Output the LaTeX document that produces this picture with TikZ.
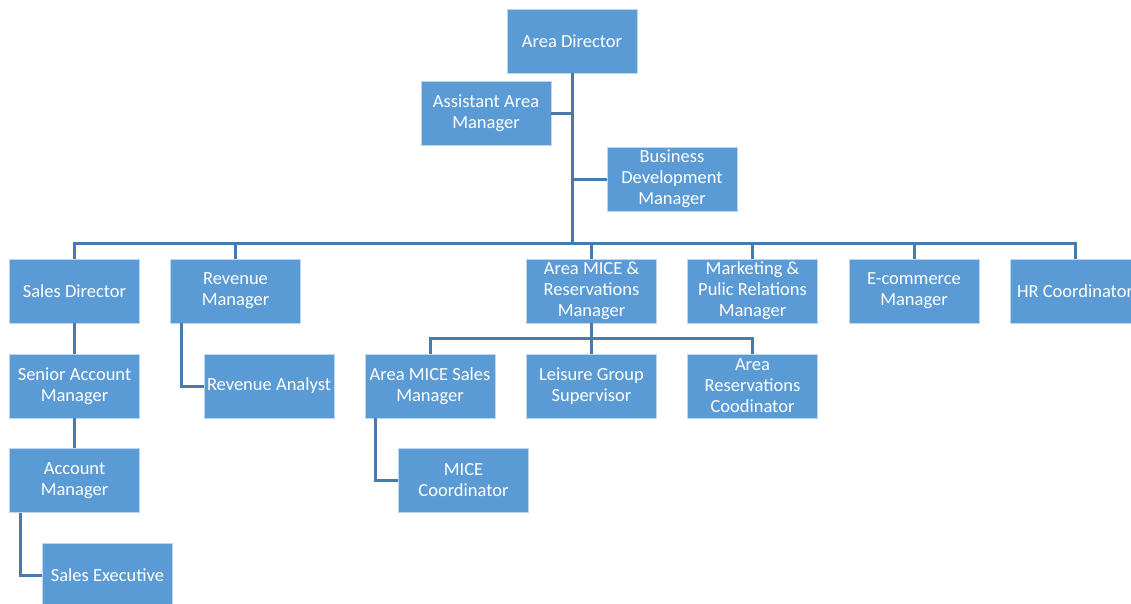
\documentclass[tikz,border=0pt]{standalone}
\usepackage{fontspec}
\setmainfont{Carlito}
\usepackage{tikz}
\usetikzlibrary{calc}
\definecolor{boxblue}{RGB}{91,155,213}
\definecolor{boxedge}{RGB}{190,215,238}
\definecolor{linkblue}{RGB}{71,122,173}

\begin{document}
\begin{tikzpicture}[x=1pt, y=-1pt,
    role/.style={fill=boxblue, draw=boxedge, line width=.6pt,
        minimum width=130pt, minimum height=64pt, inner sep=0pt,
        text=white, align=center,
        font=\fontsize{18.5}{21}\selectfont},
    link/.style={draw=linkblue, line width=3pt}]
\useasboundingbox (0,0) rectangle (1131,603);
\clip (0,0) rectangle (1131,603);
\node [role] (ad) at (572,41) {Area Director};
\node [role] (aam) at (486,113) {Assistant Area\\Manager};
\node [role] (bdm) at (672,179) {Business\\Development\\Manager};
\node [role] (sd) at (74.5,291) {Sales Director};
\node [role] (rm) at (235.5,291) {Revenue\\Manager};
\node [role] (mice) at (591.5,291) {Area MICE \&\\Reservations\\Manager};
\node [role] (mpr) at (752.5,291) {Marketing \&\\Pulic Relations\\Manager};
\node [role] (ec) at (914,291) {E-commerce\\Manager};
\node [role] (hr) at (1075,291) {HR Coordinator};
\node [role] (sam) at (74.5,386) {Senior Account\\Manager};
\node [role] (ra) at (269,386) {Revenue Analyst};
\node [role] (ams) at (430,386) {Area MICE Sales\\Manager};
\node [role] (lgs) at (591.5,386) {Leisure Group\\Supervisor};
\node [role] (arc) at (752.5,386) {Area\\Reservations\\Coodinator};
\node [role] (am) at (74.5,480.5) {Account\\Manager};
\node [role] (mc) at (463.5,480.5) {MICE\\Coordinator};
\node [role] (se) at (107.5,575) {Sales Executive};
\coordinate (bus) at (572,243);
\coordinate (subbus) at (591.5,338);
\draw [link] (ad.south) -- (bus);
\draw [link] (aam.east) -- (aam -| ad);
\draw [link] (bdm.west) -- (bdm -| ad);
\draw [link] (sd.north) -- (sd.north |- bus) -- (hr.north |- bus) -- (hr.north);
\foreach \n in {rm,mice,mpr,ec}
  \draw [link] (\n.north) -- (\n.north |- bus);
\draw [link] (sd) -- (sam);
\draw [link] (sam) -- (am);
\draw [link] ([xshift=11pt]am.south west) |- (se.west);
\draw [link] ([xshift=11pt]rm.south west) |- (ra.west);
\draw [link] (mice) -- (lgs);
\draw [link] (ams.north) -- (ams.north |- subbus) -- (arc.north |- subbus) -- (arc.north);
\draw [link] ([xshift=11pt]ams.south west) |- (mc.west);
\end{tikzpicture}
\end{document}
